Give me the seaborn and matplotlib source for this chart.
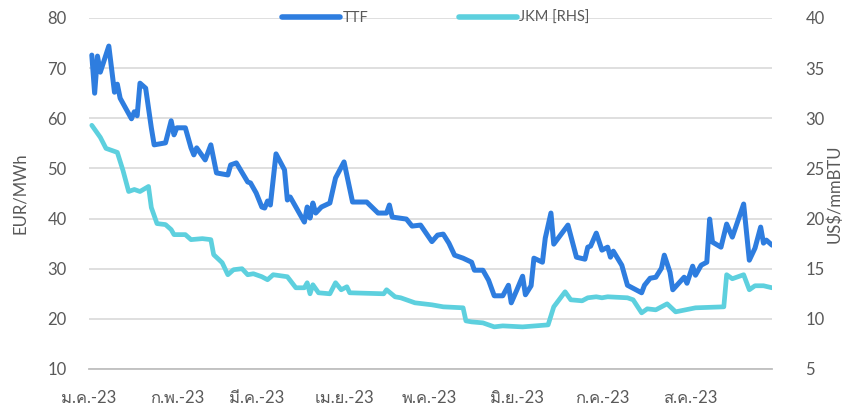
import pandas as pd
import matplotlib
matplotlib.use("Agg")
import matplotlib.pyplot as plt
import seaborn as sns
from matplotlib import font_manager
from matplotlib.ft2font import FT2Font

# month tick labels (Thai)
months = ["ม.ค.-23", "ก.พ.-23", "มี.ค.-23", "เม.ย.-23", "พ.ค.-23", "มิ.ย.-23", "ก.ค.-23", "ส.ค.-23"]

# TTF, EUR/MWh (left axis)
ttf_dates = ["2023-01-02", "2023-01-03", "2023-01-04", "2023-01-05", "2023-01-08", "2023-01-10",
             "2023-01-11", "2023-01-12", "2023-01-16", "2023-01-17", "2023-01-18", "2023-01-19",
             "2023-01-21", "2023-01-23", "2023-01-24", "2023-01-28", "2023-01-30", "2023-01-31",
             "2023-02-01", "2023-02-04", "2023-02-06", "2023-02-07", "2023-02-08", "2023-02-11",
             "2023-02-13", "2023-02-15", "2023-02-19", "2023-02-20", "2023-02-22", "2023-02-26",
             "2023-02-27", "2023-03-01", "2023-03-03", "2023-03-04", "2023-03-05", "2023-03-06",
             "2023-03-08", "2023-03-11", "2023-03-12", "2023-03-13", "2023-03-18", "2023-03-19",
             "2023-03-20", "2023-03-21", "2023-03-22", "2023-03-24", "2023-03-27", "2023-03-29",
             "2023-04-01", "2023-04-04", "2023-04-09", "2023-04-13", "2023-04-16", "2023-04-17",
             "2023-04-18", "2023-04-23", "2023-04-25", "2023-04-28", "2023-05-02", "2023-05-04",
             "2023-05-06", "2023-05-08", "2023-05-10", "2023-05-13", "2023-05-16", "2023-05-17",
             "2023-05-20", "2023-05-22", "2023-05-24", "2023-05-27", "2023-05-29", "2023-05-30",
             "2023-06-01", "2023-06-03", "2023-06-04", "2023-06-06", "2023-06-07", "2023-06-10",
             "2023-06-11", "2023-06-13", "2023-06-14", "2023-06-19", "2023-06-22", "2023-06-25",
             "2023-06-26", "2023-06-27", "2023-06-29", "2023-07-01", "2023-07-03", "2023-07-04",
             "2023-07-05", "2023-07-08", "2023-07-10", "2023-07-15", "2023-07-16", "2023-07-18",
             "2023-07-20", "2023-07-22", "2023-07-23", "2023-07-25", "2023-07-26", "2023-07-30",
             "2023-07-31", "2023-08-02", "2023-08-03", "2023-08-05", "2023-08-07", "2023-08-08",
             "2023-08-09", "2023-08-12", "2023-08-14", "2023-08-16", "2023-08-20", "2023-08-22",
             "2023-08-24", "2023-08-26", "2023-08-27", "2023-08-28", "2023-08-30"]
ttf_values = [72.6, 65.0, 72.4, 69.2, 74.4, 65.2,
              66.8, 64.0, 59.9, 61.3, 60.5, 67.0,
              66.0, 58.1, 54.7, 55.1, 59.5, 56.7,
              58.1, 58.1, 54.1, 52.7, 54.1, 51.7,
              54.7, 49.1, 48.7, 50.7, 51.1, 47.3,
              47.1, 45.1, 42.3, 42.1, 43.5, 42.7,
              52.9, 49.7, 43.7, 44.3, 39.3, 42.3,
              40.1, 43.1, 41.1, 42.3, 43.1, 48.1,
              51.3, 43.3, 43.3, 41.1, 41.1, 42.7,
              40.3, 39.9, 38.5, 38.7, 35.4, 36.7,
              36.9, 35.1, 32.7, 32.1, 31.3, 29.7,
              29.7, 27.7, 24.6, 24.6, 26.7, 23.2,
              25.8, 28.5, 24.8, 26.6, 32.1, 31.3,
              36.1, 41.1, 34.9, 38.7, 32.3, 31.9,
              34.3, 34.5, 37.1, 33.7, 34.3, 32.3,
              33.5, 30.7, 26.7, 25.2, 26.7, 28.1,
              28.3, 30.1, 32.7, 29.3, 25.8, 28.3,
              27.1, 30.5, 28.7, 30.7, 31.3, 39.9,
              35.3, 34.3, 38.9, 36.3, 42.9, 31.7,
              34.1, 38.3, 35.1, 35.7, 34.7]

# JKM, US$/mmBTU (right axis)
jkm_dates = ["2023-01-02", "2023-01-05", "2023-01-07", "2023-01-09", "2023-01-11", "2023-01-13",
             "2023-01-15", "2023-01-17", "2023-01-19", "2023-01-22", "2023-01-23", "2023-01-25",
             "2023-01-28", "2023-01-30", "2023-01-31", "2023-02-04", "2023-02-06", "2023-02-10",
             "2023-02-13", "2023-02-14", "2023-02-17", "2023-02-19", "2023-02-21", "2023-02-24",
             "2023-02-26", "2023-02-28", "2023-03-03", "2023-03-05", "2023-03-07", "2023-03-12",
             "2023-03-15", "2023-03-18", "2023-03-19", "2023-03-20", "2023-03-21", "2023-03-23",
             "2023-03-27", "2023-03-29", "2023-03-31", "2023-04-02", "2023-04-03", "2023-04-15",
             "2023-04-16", "2023-04-19", "2023-04-21", "2023-04-26", "2023-05-02", "2023-05-06",
             "2023-05-13", "2023-05-14", "2023-05-16", "2023-05-20", "2023-05-24", "2023-05-27",
             "2023-06-03", "2023-06-12", "2023-06-14", "2023-06-18", "2023-06-20", "2023-06-24",
             "2023-06-26", "2023-06-29", "2023-07-01", "2023-07-03", "2023-07-10", "2023-07-12",
             "2023-07-15", "2023-07-17", "2023-07-20", "2023-07-24", "2023-07-27", "2023-08-03",
             "2023-08-13", "2023-08-14", "2023-08-16", "2023-08-20", "2023-08-22", "2023-08-24",
             "2023-08-27", "2023-08-30"]
jkm_values = [29.3, 28.1, 27.0, 26.8, 26.6, 24.8,
              22.7, 22.9, 22.7, 23.2, 21.1, 19.5,
              19.4, 18.9, 18.4, 18.4, 17.9, 18.0,
              17.9, 16.4, 15.6, 14.4, 14.9, 15.0,
              14.4, 14.5, 14.2, 13.9, 14.4, 14.2,
              13.1, 13.1, 13.6, 12.5, 13.4, 12.6,
              12.5, 13.6, 12.9, 13.2, 12.6, 12.5,
              12.9, 12.2, 12.1, 11.6, 11.4, 11.2,
              11.1, 9.8, 9.7, 9.6, 9.2, 9.3,
              9.2, 9.4, 11.2, 12.7, 11.9, 11.8,
              12.1, 12.2, 12.1, 12.2, 12.1, 11.9,
              10.6, 11.0, 10.9, 11.5, 10.7, 11.1,
              11.2, 14.4, 14.0, 14.4, 12.9, 13.3,
              13.3, 13.1]

ttf = pd.DataFrame({"date": pd.to_datetime(ttf_dates), "value": ttf_values})
jkm = pd.DataFrame({"date": pd.to_datetime(jkm_dates), "value": jkm_values})


def find_thai_font():
    # look for any installed font with Thai glyphs
    for f in font_manager.fontManager.ttflist:
        try:
            cmap = FT2Font(f.fname).get_charmap()
        except Exception:
            continue
        if 0x0E21 in cmap and 0x0E04 in cmap and 0x0E1E in cmap:
            return f.name
    return None


sns.set_style("white")
thai = find_thai_font()
families = ["Lato"] + ([thai] if thai else []) + ["DejaVu Sans"]
plt.rcParams["font.family"] = families

text_color = "#595959"
grid_color = "#dcdcdc"
ttf_color = "#2E7DDF"
jkm_color = "#5DD0DE"

fig, ax = plt.subplots(figsize=(8.49, 4.09), dpi=100)
fig.subplots_adjust(left=0.1048, right=0.9093, top=0.956, bottom=0.0978)
ax2 = ax.twinx()

sns.lineplot(data=ttf, x="date", y="value", ax=ax, color=ttf_color, lw=3.6,
             label="TTF", legend=False)
sns.lineplot(data=jkm, x="date", y="value", ax=ax2, color=jkm_color, lw=3.4,
             label="JKM [RHS]", legend=False)
for ln in ax.lines + ax2.lines:
    ln.set_solid_capstyle("round")
    ln.set_solid_joinstyle("round")

ax.set_xlim(pd.Timestamp("2023-01-01"), pd.Timestamp("2023-08-30"))
ax.set_ylim(10, 80)
ax2.set_ylim(5, 40)
ax.set_yticks(range(10, 81, 10))
ax2.set_yticks(range(5, 41, 5))

ticks = pd.date_range("2023-01-01", periods=len(months), freq="MS")
ax.set_xticks(ticks)
ax.set_xticklabels(months)

ax.grid(axis="y", color=grid_color, lw=1.3)
ax.set_axisbelow(True)
for a in (ax, ax2):
    for s in a.spines.values():
        s.set_visible(False)
ax.spines["bottom"].set_visible(True)
ax.spines["bottom"].set_color("#bfbfbf")
ax.spines["bottom"].set_linewidth(1.3)

ax.tick_params(axis="x", colors="#bfbfbf", length=4, width=1.2, pad=11,
               labelsize=12, labelcolor=text_color)
ax.tick_params(axis="y", length=0, pad=16, labelsize=12, labelcolor=text_color)
ax2.tick_params(axis="y", length=0, pad=24, labelsize=12, labelcolor=text_color)

ax.set_xlabel("")
ax.set_ylabel("EUR/MWh", fontsize=12, color=text_color)
ax2.set_ylabel("US$/mmBTU", fontsize=12, color=text_color)
ax.yaxis.set_label_coords(-0.089, 0.5)
ax2.yaxis.set_label_coords(1.079, 0.5)

handles = ax.lines[:1] + ax2.lines[:1]
leg = ax2.legend(handles, ["TTF", "JKM [RHS]"], loc="center", bbox_to_anchor=(0.508, 1.0),
                 ncol=2, frameon=False, fontsize=10.5, handlelength=4.0,
                 handletextpad=0.15, columnspacing=6.2, labelcolor=text_color)
for h in leg.legend_handles:
    h.set_linewidth(4)
    h.set_solid_capstyle("round")

plt.savefig("out.png", dpi=100)
